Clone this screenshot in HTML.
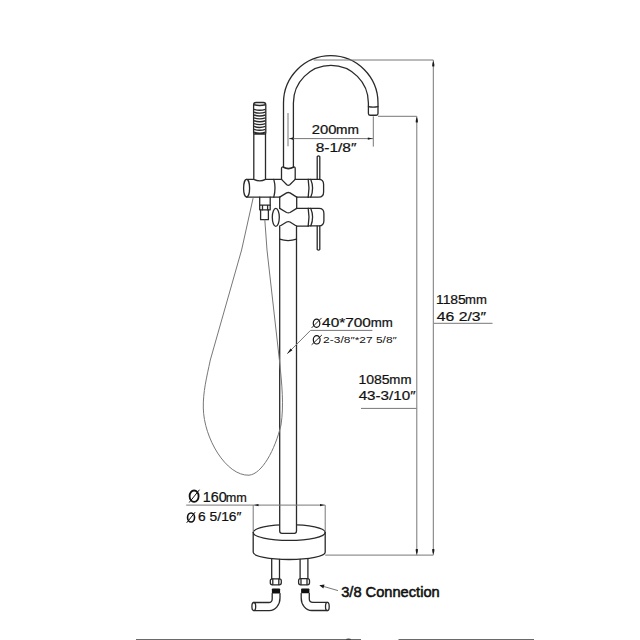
<!DOCTYPE html>
<html><head><meta charset="utf-8">
<style>
html,body{margin:0;padding:0;background:#fff;width:640px;height:640px;overflow:hidden}
svg{display:block}
text{font-family:"Liberation Sans",sans-serif;fill:#111}
</style></head>
<body>
<svg width="640" height="640" viewBox="0 0 640 640">
<g fill="none" stroke="#2a2a2a" stroke-width="1.3" stroke-linejoin="round" stroke-linecap="round">
  <!-- spout -->
  <path d="M283.5 167 L283.5 102.9 A47.25 47.25 0 0 1 378 102.9 L378 113.6 Q378 115.25 376.4 115.25 L370 115.25 Q368.4 115.25 368.4 113.6 L368.4 102.9 A37.5 37.5 0 0 0 293.4 102.9 L293.4 167"/>
  <path d="M368.4 106.6 Q373.2 107.6 378 106.6"/>
  <!-- collar -->
  <path d="M281.5 179.4 L281.5 168.6 Q281.5 166.6 283.5 167 Q288.3 169.8 293.4 167 Q295.2 166.6 295.2 168.6 L295.2 179.4"/>
  <path d="M283.6 167.4 Q288.3 170 293.3 167.4" stroke-width="1.6"/>
  <path d="M281.5 179.4 L286.8 184.8 Q288.3 185.8 289.8 184.8 L295.2 179.4"/>
  <!-- upper body -->
  <ellipse cx="246.6" cy="188.2" rx="3" ry="8.8"/>
  <path d="M246.6 179.4 L253.6 179.4 M265.8 179.4 L281.6 179.4 M295.2 179.4 L308.4 179.4"/>
  <path d="M246.6 197.1 L279.7 197.1 M296.7 197.1 L308.4 197.1"/>
  <path d="M279.7 197.1 L286.6 192.9 Q288.3 192.1 290 192.9 L296.7 197.1"/>
  <path d="M273.8 179.4 Q276.2 188 273.8 197.1"/>
  <!-- shower holder -->
  <path d="M253.8 133.5 L253.8 179.4 Q259.7 182.5 265.5 179.4 L265.5 133.5"/>
  <!-- right cap upper -->
  <path d="M308.2 179.4 L318.8 179.4 Q323.6 179.4 323.6 184.5 L323.6 192 Q323.6 197.1 318.8 197.1 L308.2 197.1"/>
  <path d="M308.2 179.4 Q309.8 188.2 308.2 197.1 M310.8 179.4 Q314.4 188.2 310.8 197.1"/>
  <!-- lever upper -->
  <path d="M317.2 179.4 L317.2 156.6 Q318.5 155 319.8 156.6 L319.8 179.4"/>
  <!-- between pipe -->
  <path d="M279.7 197.1 L279.7 208.4 M296.7 197.1 L296.7 208.4"/>
  <!-- lower body -->
  <ellipse cx="275.8" cy="217.35" rx="3.5" ry="8.95"/>
  <path d="M279.7 208.4 L286.6 212.5 Q288.3 213.3 290 212.5 L296.7 208.4"/>
  <path d="M296.7 208.4 L308.4 208.4 M296.7 226.1 L308.4 226.1"/>
  <path d="M279.7 226.3 L286.6 222 Q288.3 221.2 290 222 L296.7 226.3"/>
  <path d="M308.2 208.4 L319 208.4 Q323.9 208.4 323.9 213.5 L323.9 220.8 Q323.9 225.9 319 225.9 L308.2 225.9"/>
  <path d="M308.2 208.4 Q309.8 217.1 308.2 225.9 M310.8 208.4 Q314.4 217.1 310.8 225.9"/>
  <path d="M317.2 226.1 L317.2 249.4 Q318.5 251 319.8 249.4 L319.8 226.1"/>
  <!-- base -->
  <ellipse cx="289.2" cy="532.5" rx="36" ry="7.9"/>
  <path d="M253.2 532.5 L253.2 552.3 A36 7.2 0 0 0 325.2 552.3 L325.2 532.5"/>
  <!-- main pipe -->
  <path fill="#fff" d="M279.7 226.1 L279.7 531 Q279.7 533.3 282 533.3 L294.3 533.3 Q296.5 533.3 296.5 531 L296.5 226.1"/>
  <path d="M279.7 239.2 Q288 242 296.5 239.2"/>
  <!-- connector -->
  <path d="M259.7 197.1 L259.7 209.8 L270.2 209.8 L270.2 197.1"/>
  <path d="M259.7 205.2 L270.2 205.2 M262.5 205.2 L262.5 209.8 M267.6 205.2 L267.6 209.8"/>
  <path d="M260.6 209.8 L260.6 219.7 L268.4 219.7 L268.4 209.8"/>
  <!-- legs -->
  <path d="M271.7 559 L271.7 578.8 M279.5 559.5 L279.5 578.8 M300.1 559.5 L300.1 578.6 M307.9 559 L307.9 578.6"/>
  <rect x="270.3" y="578.8" width="11" height="6" rx="2"/>
  <path d="M272.8 579 L272.8 584.6 M278.8 579 L278.8 584.6"/>
  <rect x="298.6" y="578.6" width="10.9" height="6.2" rx="2"/>
  <path d="M301 579 L301 584.6 M307 579 L307 584.6"/>
  <!-- elbows -->
  <path d="M272.2 593.4 L272.2 599 Q272.2 602.5 268.7 602.5 L253.8 602.5 M280 593.4 L280 598 A10.6 12.5 0 0 1 269.4 610.6 L253.8 610.6"/>
  <ellipse cx="253.8" cy="606.5" rx="1.9" ry="4"/>
  <path d="M309.3 593.3 L309.3 599 Q309.3 602.3 312.9 602.3 L327.3 602.3 M301.2 593.3 L301.2 598 A10.6 12.4 0 0 0 311.8 610.5 L327.3 610.5"/>
  <ellipse cx="327.35" cy="606.5" rx="1.85" ry="4.2"/>
</g>
<!-- threads -->
<rect x="271.9" y="588.4" width="8.2" height="5" rx="0.8" fill="#111"/>
<rect x="301.1" y="588.5" width="8.3" height="4.8" rx="0.8" fill="#111"/>
<!-- shower head -->
<g fill="none" stroke="#2a2a2a" stroke-width="1.3">
  <path d="M253.6 133.5 L253.6 105 Q253.6 102.5 256 102.5 L263.3 102.5 Q265.8 102.5 265.8 105 L265.8 133.5"/>
  <path d="M254 104.8 Q259.7 106.2 265.4 104.8" stroke-width="1.6"/>
  <path stroke-width="1.4" d="M254 109.30 Q259.7 111.30 265.4 109.30 M254 112.16 Q259.7 114.16 265.4 112.16 M254 115.02 Q259.7 117.02 265.4 115.02 M254 117.88 Q259.7 119.88 265.4 117.88 M254 120.74 Q259.7 122.74 265.4 120.74 M254 123.60 Q259.7 125.60 265.4 123.60 M254 126.46 Q259.7 128.46 265.4 126.46 M254 129.32 Q259.7 131.32 265.4 129.32 M254 132.18 Q259.7 134.18 265.4 132.18 M254 134 L265.4 134"/>
</g>
<!-- hose -->
<path d="M253.1 198.1 L241.6 250 L210.3 360 C206.5 378 203 392 203.3 408 C203.8 438 226 476 249 475.2 C262 474 275 450 281 425 C284 405 282 385 279.4 360 L267 250 L264.8 219.7" fill="none" stroke="#777" stroke-width="1"/>
<!-- dimension lines -->
<g fill="none" stroke="#777" stroke-width="1">
  <path d="M313.7 60 L433.3 60 L433.3 555.1 L325.2 555.1"/>
  <path d="M378 116.3 L416.8 116.3 L416.8 555.1"/>
  <path d="M288 113 L288 146.3 M373.3 116.3 L373.3 146.6 M289 138.6 L373 138.6"/>
  <path d="M186.2 505.1 L325.2 505.1 M253.2 505.1 L253.2 532 M325.2 505.1 L325.2 532"/>
  <path d="M433.9 323.3 L492.5 323.3"/>
  <path d="M361 408.4 L416.6 408.4"/>
  <path d="M372.4 330.4 L310.5 330.4 L287.5 353.5"/>
  <path d="M338 590.6 L320 585.4"/>
</g>
<g fill="#1a1a1a" stroke="none">
  <path d="M433.3 61 C432.2 63.5 432.1 65 432.3 66.5 L434.3 66.5 C434.5 65 434.4 63.5 433.3 61 Z"/>
  <path d="M433.3 554.3 C432.2 551.8 432.1 550.5 432.3 549 L434.3 549 C434.5 550.5 434.4 551.8 433.3 554.3 Z"/>
  <path d="M416.8 117 C415.7 119.5 415.6 121 415.8 122.5 L417.8 122.5 C418 121 417.9 119.5 416.8 117 Z"/>
  <path d="M416.8 554.3 C415.7 551.8 415.6 550.5 415.8 549 L417.8 549 C418 550.5 417.9 551.8 416.8 554.3 Z"/>
  <path d="M289.5 138.6 L293.3 137.3 L293.3 139.9 Z"/>
  <path d="M372.5 138.6 L367.8 137.5 L367.8 139.7 Z"/>
  <path d="M254 505.1 L258.5 504 L258.5 506.2 Z"/>
  <path d="M324.5 505.1 L320 504 L320 506.2 Z"/>
  <path d="M286.9 353.9 L290.6 348.4 L292.4 350.2 Z"/>
  <path d="M319.3 585.2 L324.5 584.4 L323.4 588.4 Z"/>
</g>
<!-- text -->
<g stroke="#111" stroke-width="0.22">
<text x="311.85" y="133.9" font-size="13.4" textLength="24.66" lengthAdjust="spacingAndGlyphs">200</text>
<text x="335.97" y="133.9" font-size="13.0" textLength="22.87" lengthAdjust="spacingAndGlyphs">mm</text>
<text x="315.68" y="151.9" font-size="13.5" textLength="40.78" lengthAdjust="spacingAndGlyphs">8-1/8″</text>
<text x="435.93" y="303.5" font-size="13.4" textLength="29.92" lengthAdjust="spacingAndGlyphs">1185</text>
<text x="465.08" y="303.5" font-size="12.8" textLength="21.82" lengthAdjust="spacingAndGlyphs">mm</text>
<text x="436.88" y="320.7" font-size="13.5" textLength="49.32" lengthAdjust="spacingAndGlyphs">46 2/3″</text>
<text x="358.42" y="384.0" font-size="13.4" textLength="31.22" lengthAdjust="spacingAndGlyphs">1085</text>
<text x="389.39" y="384.0" font-size="12.8" textLength="22.12" lengthAdjust="spacingAndGlyphs">mm</text>
<text x="358.69" y="400.3" font-size="13.4" textLength="56.81" lengthAdjust="spacingAndGlyphs">43-3/10″</text>
<text x="322.09" y="327.4" font-size="13.6" textLength="48.86" lengthAdjust="spacingAndGlyphs">40*700</text>
<text x="370.68" y="327.4" font-size="12.6" textLength="22.08" lengthAdjust="spacingAndGlyphs">mm</text>
<text x="323.11" y="343.4" font-size="9.6" stroke="none" textLength="73.7" lengthAdjust="spacingAndGlyphs">2-3/8″*27 5/8″</text>
<text x="202.72" y="501.7" font-size="13.8" textLength="23.94" lengthAdjust="spacingAndGlyphs">160</text>
<text x="225.77" y="501.7" font-size="12.6" textLength="21.08" lengthAdjust="spacingAndGlyphs">mm</text>
<text x="198.04" y="521.1" font-size="12.4" textLength="43.44" lengthAdjust="spacingAndGlyphs">6 5/16″</text>
<text x="341.2" y="597.2" font-size="14.6" stroke="#111" stroke-width="0.55" textLength="98.5" lengthAdjust="spacingAndGlyphs">3/8 Connection</text>
</g>
<g fill="none" stroke="#111">
<ellipse cx="316.55" cy="323.25" rx="3.3" ry="4.2" stroke-width="1.2"/><path d="M311.6 327.9 L321.6 317.9" stroke-width="0.9"/>
<ellipse cx="316.7" cy="339.8" rx="3.4" ry="4.2" stroke-width="1.2"/><path d="M311.6 344.8 L321.9 335" stroke-width="0.9"/>
<ellipse cx="194.1" cy="496.2" rx="4.5" ry="5.7" stroke-width="1.8"/><path d="M189.2 502.5 L199.5 489.7" stroke-width="1"/>
<ellipse cx="191.05" cy="517.5" rx="3.5" ry="4.5" stroke-width="1.6"/><path d="M186.7 522.8 L195.1 512.2" stroke-width="1"/>
</g>
<!-- bottom lines -->
<rect x="136" y="639" width="225" height="1" fill="#6a6a6a"/>
<ellipse cx="348.5" cy="639.6" rx="2.5" ry="1.2" fill="#444"/>
<rect x="398.5" y="639" width="135.5" height="1" fill="#6a6a6a"/>
</svg>
</body></html>
